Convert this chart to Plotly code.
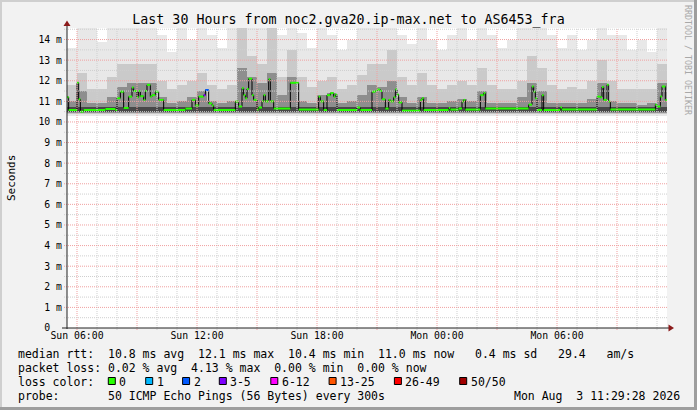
import pandas as pd
import plotly.graph_objects as go

# ---------------- data ----------------
x_start = "2026-08-02 05:30"
x_end = "2026-08-03 11:30"
y_top = 14.56

# median RTT (ms) as step breakpoints: each value holds until the next time
median_times = [
    "2026-08-02 05:30", "2026-08-02 05:35", "2026-08-02 06:00", "2026-08-02 06:05",
    "2026-08-02 06:10", "2026-08-02 06:20", "2026-08-02 07:25", "2026-08-02 07:55",
    "2026-08-02 08:00", "2026-08-02 08:10", "2026-08-02 08:20", "2026-08-02 08:35",
    "2026-08-02 08:45", "2026-08-02 08:50", "2026-08-02 09:00", "2026-08-02 09:05",
    "2026-08-02 09:10", "2026-08-02 09:20", "2026-08-02 09:25", "2026-08-02 09:30",
    "2026-08-02 09:40", "2026-08-02 09:45", "2026-08-02 09:55", "2026-08-02 10:05",
    "2026-08-02 10:20", "2026-08-02 11:25", "2026-08-02 11:45", "2026-08-02 11:55",
    "2026-08-02 12:05", "2026-08-02 12:20", "2026-08-02 12:25", "2026-08-02 12:35",
    "2026-08-02 12:45", "2026-08-02 12:50", "2026-08-02 13:55", "2026-08-02 14:05",
    "2026-08-02 14:15", "2026-08-02 14:20", "2026-08-02 14:25", "2026-08-02 14:30",
    "2026-08-02 14:35", "2026-08-02 14:45", "2026-08-02 14:50", "2026-08-02 15:00",
    "2026-08-02 15:05", "2026-08-02 15:15", "2026-08-02 15:20", "2026-08-02 15:25",
    "2026-08-02 15:35", "2026-08-02 15:40", "2026-08-02 15:50", "2026-08-02 16:40",
    "2026-08-02 17:05", "2026-08-02 18:05", "2026-08-02 18:10", "2026-08-02 18:20",
    "2026-08-02 18:30", "2026-08-02 18:40", "2026-08-02 18:50", "2026-08-02 18:55",
    "2026-08-02 19:00", "2026-08-02 20:00", "2026-08-02 20:10", "2026-08-02 20:45",
    "2026-08-02 20:55", "2026-08-02 21:00", "2026-08-02 21:10", "2026-08-02 21:15",
    "2026-08-02 21:25", "2026-08-02 21:35", "2026-08-02 21:40", "2026-08-02 21:50",
    "2026-08-02 21:55", "2026-08-02 22:00", "2026-08-02 22:05", "2026-08-02 22:15",
    "2026-08-02 23:10", "2026-08-02 23:15", "2026-08-02 23:20",
    "2026-08-03 00:35", "2026-08-03 00:40", "2026-08-03 01:05", "2026-08-03 01:15",
    "2026-08-03 01:20", "2026-08-03 01:25", "2026-08-03 02:10", "2026-08-03 02:20",
    "2026-08-03 02:25", "2026-08-03 04:35", "2026-08-03 04:45", "2026-08-03 04:50",
    "2026-08-03 04:55", "2026-08-03 05:00", "2026-08-03 05:15", "2026-08-03 05:20",
    "2026-08-03 06:10", "2026-08-03 06:15", "2026-08-03 08:00", "2026-08-03 08:10",
    "2026-08-03 08:15", "2026-08-03 08:20", "2026-08-03 08:30", "2026-08-03 08:35",
    "2026-08-03 08:40", "2026-08-03 10:55", "2026-08-03 11:00", "2026-08-03 11:10",
    "2026-08-03 11:15", "2026-08-03 11:25",
]
median_ms = [
    11.20, 10.58, 11.90, 11.10, 10.50, 10.58, 10.63, 10.58,
    11.15, 11.47, 10.68, 11.23, 11.67, 11.50, 11.20, 11.50,
    11.25, 11.07, 11.50, 11.80, 11.23, 11.30, 11.47, 11.07,
    10.58, 10.65, 11.07, 10.80, 11.23, 11.30, 11.55, 10.90,
    10.80, 10.58, 10.99, 10.75, 11.63, 11.30, 11.15, 11.60,
    12.10, 11.30, 11.07, 10.60, 10.70, 11.00, 11.30, 11.00,
    12.07, 11.00, 10.65, 11.90, 10.60, 11.23, 11.00, 10.58,
    11.30, 11.40, 11.23, 11.33, 10.58, 10.70, 10.58, 11.47,
    11.50, 11.57, 11.50, 11.10, 10.65, 11.07, 11.00, 11.20,
    11.57, 11.33, 10.95, 10.55, 11.07, 11.15, 10.58,
    10.68, 10.60, 10.65, 10.99, 11.07, 10.60, 11.30, 11.40,
    10.65, 10.84, 11.72, 11.47, 11.15, 10.58, 11.30, 10.58,
    10.70, 10.60, 11.23, 11.20, 11.70, 11.07, 11.80, 10.99,
    10.60, 10.84, 10.75, 11.23, 11.72, 11.07,
]
# packet loss (pings lost of 50) for each median step
median_loss = [0] * 29 + [3, 2] + [0] * (len(median_ms) - 31)

# smoke: 30-minute columns, upper edges of the light / mid / dark shades (ms)
smoke_light_top = [
    13.6, 14.6, 14.6, 13.9, 14.6, 14.6, 14.6, 14.6, 14.6, 14.2,
    13.4, 14.6, 14.0, 14.6, 14.2, 13.6, 14.6, 14.6, 14.6, 14.6,
    14.6, 14.2, 14.6, 14.3, 13.6, 14.6, 14.2, 13.5, 14.0, 14.6,
    14.6, 14.6, 14.6, 14.2, 13.8, 14.6, 14.0, 13.5, 14.2, 14.6,
    14.0, 14.6, 14.2, 13.6, 14.0, 14.6, 14.6, 14.6, 14.2, 13.6,
    14.2, 13.5, 14.0, 14.6, 14.2, 14.2, 13.5, 14.0, 13.4, 14.6,
]
smoke_mid_top = [
    11.8, 12.4, 11.6, 11.6, 12.2, 12.8, 12.8, 12.8, 12.8, 12.0,
    11.6, 11.8, 12.0, 12.4, 11.8, 11.6, 11.8, 14.6, 13.2, 12.8,
    14.6, 12.2, 13.5, 12.2, 11.7, 12.0, 12.2, 11.6, 11.8, 12.3,
    12.8, 12.8, 13.5, 12.2, 11.8, 12.4, 11.8, 11.6, 11.8, 12.0,
    11.8, 12.6, 11.8, 11.6, 11.6, 12.0, 13.2, 12.6, 11.8, 11.6,
    11.7, 11.6, 12.0, 13.0, 12.0, 11.6, 11.6, 11.6, 11.6, 12.8,
]
smoke_dark_top = [
    11.0, 11.5, 10.9, 10.9, 11.2, 11.7, 11.9, 11.9, 11.9, 11.2,
    10.9, 11.0, 11.2, 11.5, 11.0, 10.9, 11.0, 12.6, 12.2, 11.9,
    12.4, 11.3, 12.2, 11.0, 10.9, 11.3, 11.4, 10.9, 11.0, 11.3,
    11.8, 11.7, 12.0, 11.2, 10.9, 11.2, 10.9, 10.9, 11.0, 11.1,
    11.0, 11.5, 10.9, 10.9, 10.9, 11.2, 11.9, 11.5, 10.9, 10.9,
    10.9, 10.9, 11.1, 11.9, 11.0, 10.9, 10.9, 10.8, 10.9, 11.9,
]
smoke_light_floor = 10.30
smoke_mid_floor = 10.38
smoke_dark_floor = 10.44
smoke_core_floor = 10.48
smoke_core_top = 10.74

x_tick_vals = ["2026-08-02 06:00", "2026-08-02 12:00", "2026-08-02 18:00",
               "2026-08-03 00:00", "2026-08-03 06:00"]
x_tick_text = ["Sun 06:00", "Sun 12:00", "Sun 18:00", "Mon 00:00", "Mon 06:00"]
y_tick_vals = list(range(0, 15))
y_tick_text = ["0\u00a0\u00a0"] + [f"{v} m" for v in range(1, 15)]

loss_labels = ["0", "1", "2", "3-5", "6-12", "13-25", "26-49", "50/50"]
loss_colors = ["#26ff00", "#00b8ff", "#0059ff", "#7e00ff", "#ff00ff", "#ff5500", "#ff0000", "#a10000"]

title = "Last 30 Hours from noc2.gva20.ip-max.net to AS6453_fra"
stat_lines = [
    "median rtt:  10.8 ms avg  12.1 ms max  10.4 ms min  11.0 ms now   0.4 ms sd   29.4   am/s",
    "packet loss: 0.02 % avg  4.13 % max  0.00 % min  0.00 % now",
    "loss color:",
    "probe:       50 ICMP Echo Pings (56 Bytes) every 300s",
]
stamp = "Mon Aug  3 11:29:28 2026"

# ---------------- geometry (pixels) ----------------
W, H = 697, 410
L, R, T, B = 67, 667, 28, 328
MONO = "DejaVu Sans Mono"


def px(x):
    return (x - L) / (R - L)


def py(y):
    return (B - y) / (B - T)


def nb(s):
    return s.replace(" ", "\u00a0")


fig = go.Figure()

# smoke columns
bins = pd.date_range(x_start, periods=len(smoke_light_top), freq="30min")
centers = bins + pd.Timedelta(minutes=15)
for tops, floor, col in [(smoke_light_top, smoke_light_floor, "#e8e8e8"),
                         (smoke_mid_top, smoke_mid_floor, "#cacaca"),
                         (smoke_dark_top, smoke_dark_floor, "#8e8e8e")]:
    fig.add_trace(go.Bar(x=centers, y=[t - floor for t in tops], base=floor,
                         width=30 * 60 * 1000, marker=dict(color=col, line=dict(width=0)),
                         hoverinfo="skip"))
fig.add_trace(go.Bar(x=centers, y=[smoke_core_top - smoke_core_floor] * len(centers),
                     base=smoke_core_floor, width=30 * 60 * 1000,
                     marker=dict(color="#484848", line=dict(width=0)), hoverinfo="skip"))

# median: black connector + loss-coloured steps
mt = pd.to_datetime(median_times)
ends = list(mt[1:]) + [pd.Timestamp(x_end)]
fig.add_trace(go.Scatter(x=list(mt) + [pd.Timestamp(x_end)], y=median_ms + [median_ms[-1]],
                         mode="lines", line=dict(color="#000000", width=1, shape="hv"),
                         hoverinfo="skip"))


def loss_bin(n):
    if n == 0:
        return 0
    if n == 1:
        return 1
    if n == 2:
        return 2
    if n <= 5:
        return 3
    if n <= 12:
        return 4
    if n <= 25:
        return 5
    if n < 50:
        return 6
    return 7


for k, col in enumerate(loss_colors):
    xs, ys = [], []
    for t0, t1, v, n in zip(mt, ends, median_ms, median_loss):
        if loss_bin(n) == k:
            xs += [t0, t1, None]
            ys += [v, v, None]
    if xs:
        fig.add_trace(go.Scatter(x=xs, y=ys, mode="lines", line=dict(color=col, width=2),
                                 hoverinfo="skip"))

shapes = []
# grid on top of the smoke
hours = pd.date_range("2026-08-02 06:00", "2026-08-03 11:00", freq="1h")
for h in hours:
    major = h.hour % 3 == 0
    shapes.append(dict(type="line", xref="x", yref="paper", x0=h, x1=h, y0=py(330), y1=1,
                       line=dict(color="#f0a0a0" if major else "#cfcfcf", width=1, dash="1px,1px"),
                       layer="above"))
for i in range(1, 30):
    v = i * 0.5
    major = i % 2 == 0
    shapes.append(dict(type="line", xref="paper", yref="y", x0=px(64), x1=1, y0=v, y1=v,
                       line=dict(color="#f0a0a0" if major else "#cfcfcf", width=1, dash="1px,1px"),
                       layer="above"))
# axes with arrows
shapes.append(dict(type="line", xref="paper", yref="paper", x0=px(67), x1=px(67), y0=py(329), y1=py(24),
                   line=dict(color="#202020", width=1), layer="above"))
shapes.append(dict(type="line", xref="paper", yref="paper", x0=px(62), x1=px(669), y0=py(328), y1=py(328),
                   line=dict(color="#202020", width=1), layer="above"))
shapes.append(dict(type="path", xref="paper", yref="paper",
                   path=f"M {px(67)},{py(20.5)} L {px(63.5)},{py(26)} L {px(70.5)},{py(26)} Z",
                   fillcolor="#8b1a1a", line=dict(width=0), layer="above"))
shapes.append(dict(type="path", xref="paper", yref="paper",
                   path=f"M {px(674)},{py(328)} L {px(668.5)},{py(324.5)} L {px(668.5)},{py(331.5)} Z",
                   fillcolor="#8b1a1a", line=dict(width=0), layer="above"))
# frame shading
shapes += [
    dict(type="rect", xref="paper", yref="paper", x0=px(0), x1=px(W), y0=py(0), y1=py(2),
         fillcolor="#cfcfcf", line=dict(width=0), layer="below"),
    dict(type="rect", xref="paper", yref="paper", x0=px(0), x1=px(2), y0=py(0), y1=py(H),
         fillcolor="#cfcfcf", line=dict(width=0), layer="below"),
    dict(type="rect", xref="paper", yref="paper", x0=px(W - 3), x1=px(W), y0=py(0), y1=py(H),
         fillcolor="#9e9e9e", line=dict(width=0), layer="below"),
    dict(type="rect", xref="paper", yref="paper", x0=px(0), x1=px(W), y0=py(H - 3), y1=py(H),
         fillcolor="#9e9e9e", line=dict(width=0), layer="below"),
]

annotations = []
line_y = [354, 368, 382, 396]
for s, yy in zip(stat_lines, line_y):
    annotations.append(dict(text=nb(s), x=px(15.7), y=py(yy), xref="paper", yref="paper",
                            xanchor="left", yanchor="middle", showarrow=False,
                            font=dict(family=MONO, size=11.5, color="#000000")))
annotations.append(dict(text=nb(stamp), x=px(682), y=py(396), xref="paper", yref="paper",
                        xanchor="right", yanchor="middle", showarrow=False,
                        font=dict(family=MONO, size=11.5, color="#000000")))
box_left = [108.3, 145.7, 182.6, 219.3, 270.8, 329.1, 394.4, 459.7]
for bx, lab, col in zip(box_left, loss_labels, loss_colors):
    shapes.append(dict(type="rect", xref="paper", yref="paper", x0=px(bx), x1=px(bx + 7),
                       y0=py(377.5), y1=py(384.5), fillcolor=col,
                       line=dict(color="#000000", width=1), layer="above"))
    annotations.append(dict(text=nb(lab), x=px(bx + 9), y=py(382), xref="paper", yref="paper",
                            xanchor="left", yanchor="middle", showarrow=False,
                            font=dict(family=MONO, size=11.5, color="#000000")))
annotations.append(dict(text="Seconds", x=px(11), y=py(178), xref="paper", yref="paper",
                        textangle=-90, showarrow=False, xanchor="center", yanchor="middle",
                        font=dict(family=MONO, size=11, color="#000000")))
annotations.append(dict(text=nb("RRDTOOL / TOBI OETIKER"), x=px(688), y=py(60), xref="paper", yref="paper",
                        textangle=90, showarrow=False, xanchor="center", yanchor="middle",
                        font=dict(family=MONO, size=8.3, color="#a8a8a8")))

fig.update_layout(
    width=W, height=H,
    margin=dict(l=L, r=W - R, t=T, b=H - B, pad=0, autoexpand=False),
    paper_bgcolor="#f2f2f2", plot_bgcolor="#ffffff",
    showlegend=False, barmode="overlay", bargap=0,
    title=dict(text=title, x=0.5, xref="container", xanchor="center",
               y=1 - 19 / H, yref="container", yanchor="middle", automargin=False,
               font=dict(family=MONO, size=13.3, color="#000000")),
    xaxis=dict(type="date", range=[x_start, x_end], tickvals=x_tick_vals, ticktext=x_tick_text,
               showgrid=False, zeroline=False, showline=False, ticks="", automargin=False,
               tickfont=dict(family=MONO, size=9.8, color="#000000")),
    yaxis=dict(range=[0, y_top], tickvals=y_tick_vals, ticktext=y_tick_text,
               showgrid=False, zeroline=False, showline=False, ticks="", automargin=False,
               ticklabelstandoff=4,
               tickfont=dict(family=MONO, size=9.8, color="#000000")),
    shapes=shapes, annotations=annotations,
)

fig.write_html("out.html", config={"displayModeBar": False, "staticPlot": True},
               post_script="document.body.style.margin='0';document.body.style.padding='0';")
